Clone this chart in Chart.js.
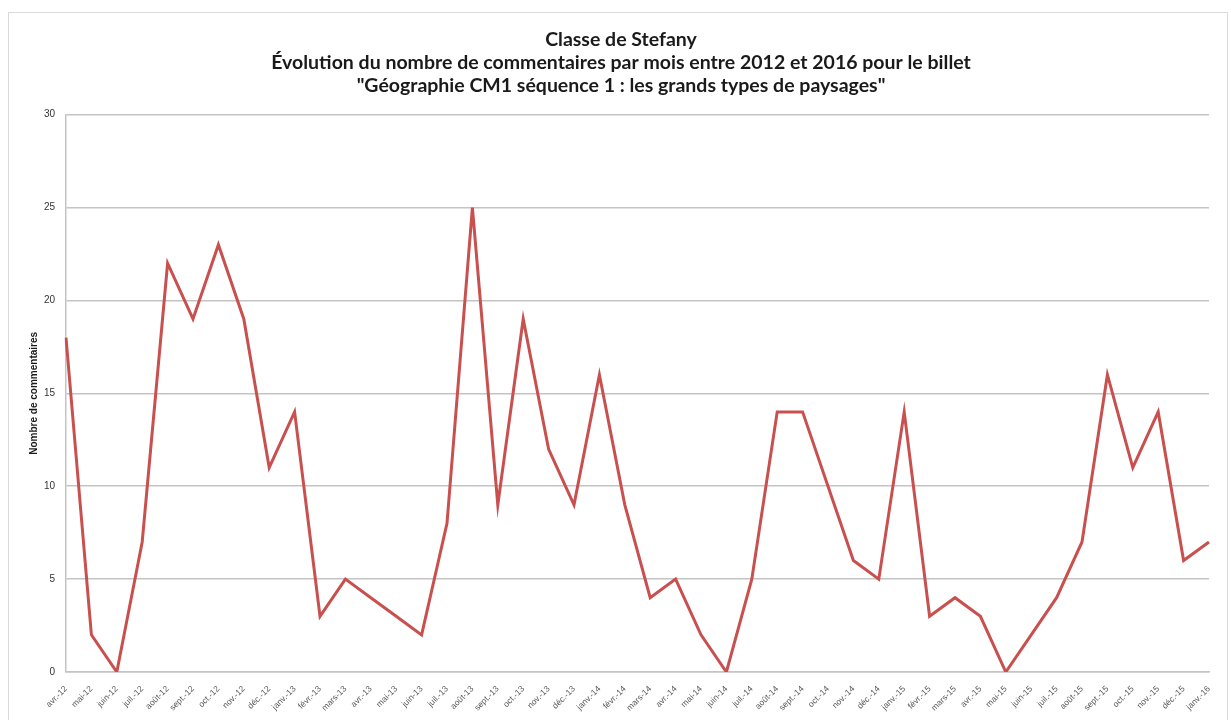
<!DOCTYPE html>
<html>
<head>
<meta charset="utf-8">
<script src="https://cdn.jsdelivr.net/npm/chart.js@4.4.1/dist/chart.umd.min.js"></script>
<style>
html, body { margin: 0; padding: 0; background: #fff; }
#frame { position: absolute; left: 8px; top: 12px; width: 1218px; height: 720px; border: 1px solid #d9d9d9; }
#wrap { position: absolute; left: 0; top: 0; width: 1231px; height: 720px; }
</style>
</head>
<body>
<div id="frame"></div>
<div id="wrap"><canvas id="chart-comments" width="1231" height="720"></canvas></div>
<script>
var months = [
    "avr.-12", "mai-12", "juin-12", "juil.-12", "août-12", "sept.-12", "oct.-12", "nov.-12", "déc.-12",
    "janv.-13", "févr.-13", "mars-13", "avr.-13", "mai-13", "juin-13", "juil.-13", "août-13", "sept.-13", "oct.-13", "nov.-13", "déc.-13",
    "janv.-14", "févr.-14", "mars-14", "avr.-14", "mai-14", "juin-14", "juil.-14", "août-14", "sept.-14", "oct.-14", "nov.-14", "déc.-14",
    "janv.-15", "févr.-15", "mars-15", "avr.-15", "mai-15", "juin-15", "juil.-15", "août-15", "sept.-15", "oct.-15", "nov.-15", "déc.-15",
    "janv.-16"
];
var comments = [
    18, 2, 0, 7, 22, 19, 23, 19, 11,
    14, 3, 5, 4, 3, 2, 8, 25, 9, 19, 12, 9,
    16, 9, 4, 5, 2, 0, 5, 14, 14, 10, 6, 5,
    14, 3, 4, 3, 0, 2, 4, 7, 16, 11, 14, 6,
    7
];
var yMin = 0;
var yMax = 30;
var yStep = 5;
var titleLines = [
    "Classe de Stefany",
    "Évolution du nombre de commentaires par mois entre 2012 et 2016 pour le billet",
    "\"Géographie CM1 séquence 1 : les grands types de paysages\""
];
var yTitle = "Nombre de commentaires";

var ctx = document.getElementById("chart-comments");
var commentsChart = new Chart(ctx, {
    type: 'line',
    data: {
        labels: months,
        datasets: [{
            data: comments,
            borderColor: "#C8504E",
            borderWidth: 3,
            pointRadius: 0,
            tension: 0,
            fill: false
        }]
    },
    options: {
        responsive: false,
        animation: false,
        // left padding keeps the title centred a bit right of the canvas middle, as in the original
        layout: { padding: { left: 33, right: 22, top: 0, bottom: 0 } },
        plugins: {
            legend: { display: false },
            tooltip: { enabled: false },
            title: {
                display: true,
                text: titleLines,
                color: "#1a1a1a",
                font: { family: "Lato", size: 19.5, weight: "bold", lineHeight: 1.19 },
                padding: { top: 28, bottom: 17 }
            }
        },
        scales: {
            x: {
                offset: false,
                grid: { display: false },
                border: { display: true, color: "#c4c4c4", width: 1.5 },
                ticks: {
                    autoSkip: false,
                    maxRotation: 45,
                    minRotation: 45,
                    padding: 4,
                    color: "#595959",
                    font: { family: "Liberation Sans", size: 8.5 }
                },
                afterFit: function(scale) { scale.height = 48; } // plot ends at y=672
            },
            y: {
                min: yMin,
                max: yMax,
                grid: { color: "#c4c4c4", lineWidth: 1.5, drawTicks: false },
                border: { display: true, color: "#c4c4c4", width: 1.5 },
                ticks: {
                    stepSize: yStep,
                    padding: 11,
                    color: "#333",
                    font: { family: "Liberation Sans", size: 10 }
                },
                title: {
                    display: true,
                    text: yTitle,
                    color: "#1a1a1a",
                    font: { family: "Liberation Sans", size: 10, weight: "bold" },
                    padding: { top: -5, bottom: 0 }
                },
                afterFit: function(scale) { scale.width = 33; }
            }
        }
    }
});
</script>
</body>
</html>
